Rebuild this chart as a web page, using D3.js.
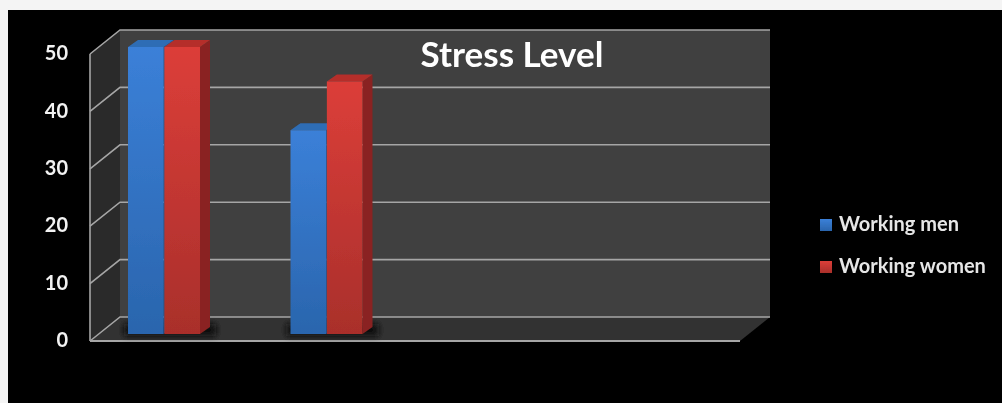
<!DOCTYPE html>
<html><head><meta charset="utf-8">
<script src="https://cdn.jsdelivr.net/npm/d3@7"></script>
<style>html,body{margin:0;padding:0;background:#fff;overflow:hidden}svg{display:block}text{font-family:Lato,sans-serif;font-weight:700}</style>
</head><body><svg id="c" width="1002" height="403"></svg>
<script>
const title = "Stress Level";
const categories = ["Group 1", "Group 2", "Group 3", "Group 4"];
const seriesNames = ["Working men", "Working women"];
const men = [50, 35.5, null, null];
const women = [50, 44, null, null];
const yTicks = [0, 10, 20, 30, 40, 50];
const colors = {
  "Working men": {top:"#2f6db5", side:"#24558f", a:"#3b80d8", b:"#2a65ad"},
  "Working women": {top:"#b52f2b", side:"#8a2420", a:"#dc3e39", b:"#a92f2b"}
};

const svg = d3.select("#c");
const W = 1002, H = 403;
svg.append("rect").attr("width",W).attr("height",H).attr("fill","#f4f4f4");
svg.append("rect").attr("x",8).attr("y",10).attr("width",W-8).attr("height",H-10).attr("fill","#000");

const defs = svg.append("defs");
defs.append("filter").attr("id","soft").attr("x","-5%").attr("y","-5%").attr("width","110%").attr("height","110%")
  .append("feGaussianBlur").attr("stdDeviation",0.6);
defs.append("filter").attr("id","shadow").attr("x","-30%").attr("y","-100%").attr("width","160%").attr("height","300%")
  .append("feGaussianBlur").attr("stdDeviation",3);
seriesNames.forEach((s,i)=>{
  const g = defs.append("linearGradient").attr("id","g"+i).attr("x1",0).attr("y1",0).attr("x2",0).attr("y2",1);
  g.append("stop").attr("offset","0%").attr("stop-color",colors[s].a);
  g.append("stop").attr("offset","100%").attr("stop-color",colors[s].b);
});

const root = svg.append("g").attr("filter","url(#soft)");

// depth of the 3D box
const dx = 30, dy = -24;
const left = 90, right = 740;
const yFront = d3.scaleLinear().domain([0,50]).range([341,54]);
const yBar = d3.scaleLinear().domain([0,50]).range([334,47]);
const yBack = v => yFront(v)+dy;

// walls
root.append("polygon").attr("fill","#3f3f3f")
  .attr("points",[[left+dx,yBack(50)],[right+dx,yBack(50)],[right+dx,yBack(0)],[left+dx,yBack(0)]].join(" "));
root.append("polygon").attr("fill","#2a2a2a")
  .attr("points",[[left,yFront(50)],[left+dx,yBack(50)],[left+dx,yBack(0)],[left,yFront(0)]].join(" "));
root.append("polygon").attr("fill","#323232")
  .attr("points",[[left,yFront(0)],[left+dx,yBack(0)],[right+dx,yBack(0)],[right,yFront(0)]].join(" "));

// grid
const line = "#a6a6a6";
root.selectAll("path.grid").data(yTicks).join("path").attr("class","grid")
  .attr("fill","none").attr("stroke",line).attr("stroke-width",1.6)
  .attr("d",v=>d3.line()([[left,yFront(v)],[left+dx,yBack(v)],[right+dx,yBack(v)]]));
root.append("line").attr("x1",left).attr("x2",left).attr("y1",yFront(50)).attr("y2",yFront(0)).attr("stroke",line).attr("stroke-width",1.6);
root.append("line").attr("x1",left).attr("x2",right).attr("y1",yFront(0)).attr("y2",yFront(0)).attr("stroke",line).attr("stroke-width",2);

// bars
const x0 = d3.scaleBand().domain(categories).range([left+18,left+18+162.5*4]).padding(0);
const x1 = d3.scaleBand().domain(seriesNames).range([20,92]).paddingInner(0.02);
const bw = x1.bandwidth();
const bd = 10, bu = 7;
const rows = categories.flatMap((c,i)=>[
  {c,s:seriesNames[0],v:men[i],i:0},
  {c,s:seriesNames[1],v:women[i],i:1}
]).filter(d=>d.v!=null);

const shadowData = categories.filter((c,i)=>men[i]!=null);
root.selectAll("rect.sh").data(shadowData).join("rect").attr("class","sh")
  .attr("x",c=>x0(c)+16).attr("y",yBar(0)-10).attr("width",92).attr("height",12)
  .attr("fill","#111").attr("filter","url(#shadow)");

const bars = root.selectAll("g.bar").data(rows).join("g").attr("class","bar");
bars.append("polygon").attr("fill",d=>colors[d.s].side).attr("points",d=>{
  const x=x0(d.c)+x1(d.s)+bw, t=yBar(d.v), b=yBar(0);
  return [[x,t],[x+bd,t-bu],[x+bd,b-bu],[x,b]].join(" ");
});
bars.append("polygon").attr("fill",d=>colors[d.s].top).attr("points",d=>{
  const x=x0(d.c)+x1(d.s), t=yBar(d.v);
  return [[x,t],[x+bd,t-bu],[x+bw+bd,t-bu],[x+bw,t]].join(" ");
});
bars.append("rect").attr("x",d=>x0(d.c)+x1(d.s)).attr("y",d=>yBar(d.v))
  .attr("width",bw).attr("height",d=>yBar(0)-yBar(d.v))
  .attr("fill",d=>`url(#g${d.i})`);

// tick labels
root.selectAll("text.tick").data(yTicks).join("text").attr("class","tick")
  .attr("x",68).attr("y",v=>yFront(v)+1).attr("text-anchor","end").attr("dominant-baseline","middle")
  .attr("font-size",20).attr("fill","#f2f2f2").text(d=>d);

// title
root.append("text").attr("x",512).attr("y",67).attr("text-anchor","middle")
  .attr("font-size",35).attr("fill","#fff").text(title);

// legend
const leg = root.selectAll("g.leg").data(seriesNames).join("g").attr("class","leg")
  .attr("transform",(d,i)=>`translate(820,${225+i*42})`);
leg.append("rect").attr("x",0).attr("y",-6).attr("width",12).attr("height",12).attr("fill",(d,i)=>`url(#g${i})`);
leg.append("text").attr("x",19).attr("y",1).attr("dominant-baseline","middle")
  .attr("font-size",20).attr("fill","#e6e6e6").text(d=>d);
</script></body></html>
